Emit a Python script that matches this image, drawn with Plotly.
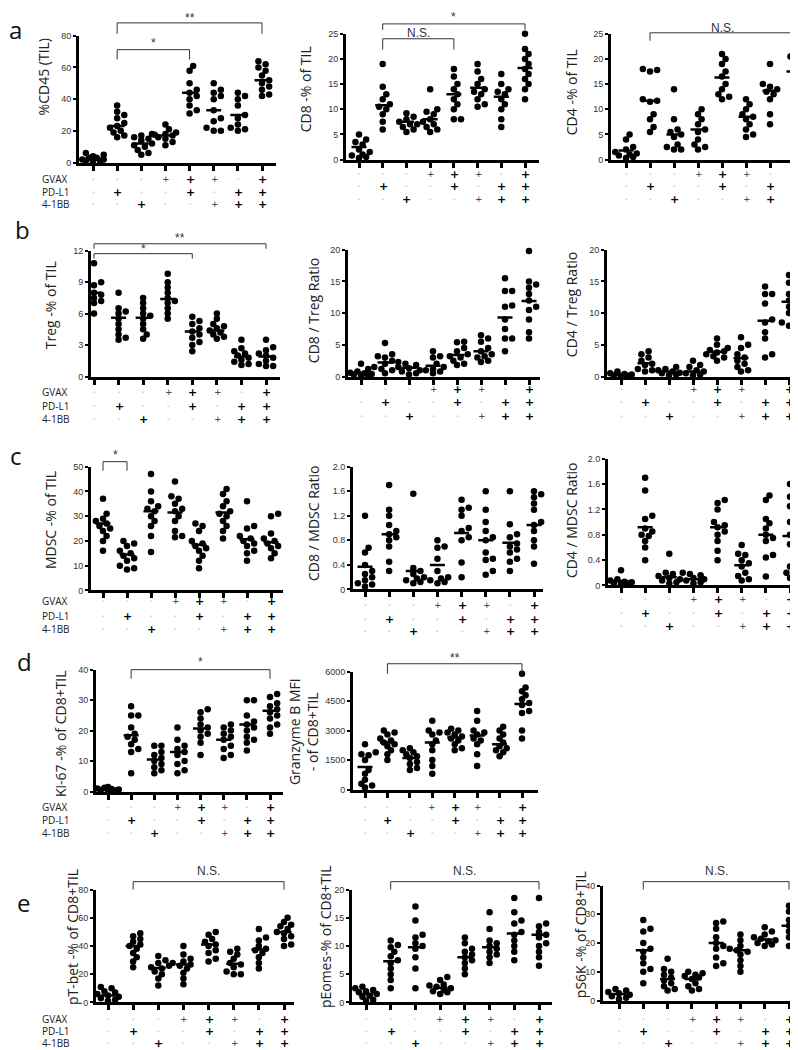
import plotly.graph_objects as go

W, H = 798, 1050

# ---------------- data ----------------
GVAX  = ["-", "-", "-", "+", "+", "+", "-", "+"]
PDL1  = ["-", "+", "-", "-", "+", "-", "+", "+"]
BB41  = ["-", "-", "+", "-", "-", "+", "+", "+"]
ROW_NAMES = ["GVAX", "PD-L1", "4-1BB"]

cd45_til = [[1, 2, 3, 4, 5, 6, 2, 1, 3, 0.5],
            [36, 32, 30, 28, 25, 23, 22, 20, 19, 17, 16],
            [18, 17, 16, 15, 14, 12, 11, 10, 8, 6, 5],
            [24, 21, 19, 18, 17.5, 17, 16, 15, 13, 11],
            [61, 58, 50, 46, 44, 42, 40, 36, 33, 31],
            [50, 46, 44, 42, 40, 33, 28, 26, 22, 20, 20],
            [44, 42, 40, 36, 30, 28, 24, 22, 21, 20],
            [64, 62, 60, 58, 55, 52, 50, 48, 46, 43, 42]]
cd45_mean = [3, 23, 12, 17, 44, 33, 30, 52]

cd8_til = [[5, 4, 3.5, 3, 2, 1, 0.8, 0.5, 1.5, 0.3],
           [19, 14.5, 13, 12, 11, 10.5, 10, 9, 7.5, 6],
           [9.2, 8.5, 8, 7.5, 7, 7, 6.5, 6, 5.5],
           [14, 10, 9.5, 9, 8, 7.5, 7, 6.5, 6, 5.5],
           [18, 16.5, 15, 14, 13, 12, 11, 10, 8, 8],
           [19, 17.5, 16, 15, 14, 13.5, 13, 12, 11, 10.5],
           [17, 15, 14, 13.5, 13, 12, 11, 10, 8, 6.5],
           [25, 22, 21, 20, 19, 18, 17, 16, 15, 14, 12]]
cd8_mean = [2.5, 10.8, 7.5, 8, 13, 14.3, 12.5, 18.2]

cd4_til = [[5, 4, 2.5, 2, 1.5, 1, 0.5, 0.3, 0.8, 1.2],
           [18, 17.8, 17.5, 12, 11.7, 11.5, 9, 8, 6.5, 5.5],
           [14, 8, 6, 5.5, 5, 4.5, 3, 2.5, 2, 2],
           [10, 9, 8, 7, 6, 5.5, 4, 3, 2.5, 2],
           [21, 20, 19, 17.5, 16.5, 15, 14, 13, 12, 12.5],
           [12, 11, 10, 9, 8.5, 8, 7, 6, 5, 4.5],
           [19, 15, 14.5, 14, 13.5, 13, 12, 9, 7],
           [21, 20.5, 20, 19, 18, 17.5, 16, 15, 11, 10]]
cd4_mean = [1.8, 11.7, 5, 6, 16.3, 8.5, 13.7, 17.5]

treg_til = [[10.8, 9, 8.7, 8.2, 8, 7.8, 7.5, 7.2, 7, 6],
            [8, 6.5, 6.2, 6, 5.5, 5, 4.5, 4, 3.7, 3.5],
            [7.5, 7, 6.5, 6, 5.8, 5.5, 5, 4.5, 4, 3.6],
            [9.8, 9, 8.5, 8, 7.5, 7.2, 7, 6.5, 6, 5.5],
            [5.7, 5.3, 5, 4.6, 4.3, 4, 3.7, 3.3, 3, 2.4],
            [6, 5.5, 5, 4.8, 4.6, 4.4, 4.2, 4, 3.8, 3.6],
            [3.5, 2.7, 2.4, 2.2, 2, 1.8, 1.6, 1.4, 1.2, 1.1],
            [3.5, 2.8, 2.5, 2.2, 2, 1.8, 1.5, 1.2, 1, 1]]
treg_mean = [8, 5.6, 5.6, 7.4, 4.3, 4.4, 1.9, 1.9]

cd8_treg = [[2, 1.2, 0.8, 0.5, 0.3, 0.2, 0.4, 0.6, 0.1],
            [5.3, 3.5, 3.2, 3, 2.5, 2, 1.5, 1.2, 1, 0.5],
            [2.3, 2, 1.8, 1.5, 1.3, 1, 0.8, 0.5, 0.3],
            [4, 3.2, 3, 2, 1.5, 1.2, 1, 0.8, 0.5],
            [5.5, 5.4, 4.5, 4, 3.5, 3.2, 3, 2.5, 2, 1.8],
            [6.5, 6, 5.5, 4.5, 4, 3.5, 3.2, 3, 2.5, 2.3],
            [15.5, 13.5, 13.5, 11.2, 11, 9, 7.5, 6, 6, 4],
            [19.8, 15, 14.5, 14, 13, 12, 11, 10.5, 9, 7, 6]]
cd8_treg_mean = [0.6, 2.2, 1.4, 1.7, 3.4, 4, 9.3, 11.9]

cd4_treg = [[0.8, 0.4, 0.2, 0.1, 0.3, 0.5, 0.1],
            [4, 3.5, 3, 2.5, 2, 1.8, 1.2, 1, 0.8],
            [1.5, 1.2, 1, 0.8, 0.6, 0.5, 0.3, 0.2],
            [2.5, 1.8, 1.5, 1, 0.8, 0.5, 0.3, 0.2],
            [6, 5, 4.5, 4.2, 4, 3.8, 3.5, 3.2, 3, 2.5],
            [6.2, 5, 4.5, 3.5, 3, 2.5, 2, 1.5, 1, 0.8],
            [14.2, 13, 13, 11.5, 9, 8.5, 7, 6, 3.5, 3],
            [16, 15, 14.8, 13, 12, 11.5, 11, 10, 8.5, 8, 8]]
cd4_treg_mean = [0.2, 2.1, 0.8, 0.8, 3.9, 2.9, 8.8, 11.8]

mdsc_til = [[37, 31, 29, 28, 27, 26, 25, 24, 22, 20, 16],
            [20, 19, 18, 16, 15, 14, 13, 12, 10, 9, 8.5],
            [47, 40, 36, 34, 33, 32, 30, 28, 26, 22, 15.5],
            [44, 38, 37, 35, 33, 32, 30, 28, 24, 22, 21.5],
            [27, 26, 24, 20, 19, 18, 17, 16, 14, 12, 9],
            [41, 39, 36, 34, 32, 31, 30, 28, 26, 24, 21],
            [36, 26, 25, 22, 21, 20, 19, 18, 16, 15, 12],
            [31, 30, 23, 21, 20, 19, 18, 17, 15, 13]]
mdsc_mean = [27, 14.5, 32, 31.5, 18.5, 31.5, 20.7, 19.5]

cd8_mdsc = [[1.2, 0.68, 0.6, 0.4, 0.3, 0.25, 0.2, 0.15, 0.1, 0.08, 0.05],
            [1.7, 1.3, 1.2, 1.05, 0.95, 0.9, 0.85, 0.8, 0.7, 0.45, 0.3],
            [1.56, 0.35, 0.3, 0.25, 0.2, 0.18, 0.15, 0.12, 0.1],
            [0.8, 0.7, 0.68, 0.5, 0.3, 0.2, 0.18, 0.15, 0.12, 0.1],
            [1.46, 1.33, 1.3, 1.2, 1.0, 0.95, 0.85, 0.8, 0.44, 0.2],
            [1.6, 1.3, 1.1, 0.95, 0.85, 0.8, 0.6, 0.5, 0.48, 0.3, 0.24],
            [1.6, 1.06, 0.9, 0.85, 0.75, 0.7, 0.65, 0.6, 0.5, 0.45, 0.3],
            [1.6, 1.55, 1.5, 1.4, 1.3, 1.1, 1.05, 0.95, 0.8, 0.7, 0.42]]
cd8_mdsc_mean = [0.37, 0.9, 0.3, 0.4, 0.92, 0.8, 0.76, 1.05]

cd4_mdsc = [[0.24, 0.1, 0.08, 0.05, 0.03, 0.02, 0.06, 0.04],
            [1.7, 1.5, 1.1, 1.05, 0.9, 0.85, 0.8, 0.78, 0.7, 0.6, 0.4],
            [0.5, 0.2, 0.18, 0.15, 0.12, 0.1, 0.08, 0.05, 0.03],
            [0.2, 0.18, 0.16, 0.12, 0.1, 0.08, 0.05, 0.03],
            [1.35, 1.3, 1.2, 1.0, 0.95, 0.92, 0.85, 0.8, 0.7, 0.55, 0.4],
            [0.64, 0.5, 0.48, 0.4, 0.35, 0.3, 0.2, 0.15, 0.1, 0.08],
            [1.42, 1.35, 1.05, 0.98, 0.9, 0.8, 0.75, 0.7, 0.48, 0.44, 0.14],
            [1.6, 1.4, 1.25, 1.0, 1.0, 0.8, 0.65, 0.3, 0.2, 0.15, 0.12]]
cd4_mdsc_mean = [0.07, 0.92, 0.13, 0.1, 0.92, 0.32, 0.8, 0.78]

ki67 = [[1.5, 1, 0.8, 0.5, 0.3, 0.7, 0.2, 1.2],
        [28, 25, 25, 21, 19, 18, 17, 15.5, 14, 13, 6],
        [15, 15, 13, 12, 11, 10, 9, 8, 7, 6],
        [21, 17, 15, 14, 13, 12, 10, 9, 7, 6],
        [27, 26, 24, 22, 21, 20, 19, 18, 16, 12],
        [22, 21, 20, 19, 18, 17, 15, 14, 12, 11],
        [30, 30, 25, 23, 22, 21, 20, 18, 17, 16, 13.5],
        [32, 31, 29, 28, 27, 26, 25, 24, 22, 21, 19]]
ki67_mean = [0.8, 18.5, 10.5, 13, 20.7, 17, 22, 26.5]

gzmb = [[2300, 1900, 1800, 1750, 1500, 1000, 800, 500, 300, 200, 100],
        [3000, 2900, 2800, 2600, 2500, 2400, 2300, 2200, 2000, 1800, 1500],
        [2100, 2000, 1900, 1800, 1700, 1600, 1400, 1300, 1100, 1000],
        [3500, 3000, 2900, 2800, 2500, 2300, 2000, 1500, 1200, 800],
        [3100, 3000, 2900, 2800, 2700, 2600, 2500, 2300, 2100, 2000],
        [4000, 3500, 3000, 2900, 2800, 2600, 2500, 2300, 1800, 1200],
        [3200, 3000, 2800, 2600, 2400, 2200, 2100, 2000, 1900, 1700],
        [5900, 5200, 5000, 4800, 4600, 4400, 4300, 4000, 3900, 3000, 2600]]
gzmb_mean = [1150, 2400, 1600, 2400, 2650, 2750, 2300, 4350]

ptbet = [[11, 10, 8, 7, 6, 5, 4, 3, 2, 1],
         [49, 47, 45, 43, 41, 40, 38, 35, 32, 29, 25],
         [33, 30, 28, 26, 25, 24, 22, 20, 17, 12],
         [40, 34, 31, 29, 28, 27, 26, 24, 21, 17, 13],
         [50, 48, 45, 43, 41, 40, 37, 35, 31, 29],
         [38, 36, 34, 31, 28, 27, 25, 22, 20, 20],
         [52, 46, 44, 40, 38, 37, 35, 32, 28, 24],
         [60, 57, 55, 54, 52, 50, 49, 47, 45, 41, 40]]
ptbet_mean = [5, 40, 24.5, 27, 41, 27.5, 37.5, 50]

peomes = [[2.8, 2.5, 2.2, 2, 1.8, 1.5, 1.2, 1, 0.5, 0.3],
          [11, 10.2, 9.8, 9, 8.2, 7.5, 7, 6, 5, 4, 2.5],
          [17, 14.5, 12, 11.5, 10.5, 10, 9.5, 8, 6, 2.5],
          [4.5, 4, 3.2, 3, 2.8, 2.5, 2.2, 2, 1.8, 1.5],
          [11.5, 10.5, 9.5, 9, 8.5, 8, 7.5, 7, 6, 5],
          [16, 13, 11, 10.5, 10, 9.5, 9, 8.5, 8, 7],
          [18.5, 16, 14.5, 14, 12.5, 12, 11, 10, 9, 7.5],
          [18.5, 14, 13.5, 12.5, 12, 11.5, 10.5, 10, 9, 8, 6.5]]
peomes_mean = [1.5, 7.3, 9.8, 2.6, 8, 9.8, 12.2, 12]

ps6k = [[4, 3.5, 3, 2.5, 2, 1.5, 1, 0.5],
        [28, 25, 24, 20, 18, 17, 15, 13, 11, 10, 6],
        [14.5, 11, 10, 9, 8, 7, 6, 5, 4, 3.5],
        [10, 9.5, 9, 8.5, 8, 7.5, 6, 5, 4, 3.5],
        [27.5, 27, 25, 22, 20, 19, 18, 15, 13, 12],
        [23, 21, 19, 18, 17.5, 17, 16, 14, 12, 10],
        [25.5, 24, 23, 22, 21.5, 21, 20.5, 20, 19.5, 19],
        [33, 32, 31, 28, 27, 26, 25, 24, 22, 20, 19]]
ps6k_mean = [2.3, 17.5, 7.5, 7.5, 20, 17.5, 21.2, 26]

# ---------------- layout of the panels (pixel geometry) ----------------
panels = [
    dict(data=cd45_til, mean=cd45_mean, title="%CD45 (TIL)", tx=35, ty=65,
         left=71, g1=85, g8=254, right=268, top=23, bottom=151, ymax=80, dt=20,
         rows=(168, 181, 193), names=True),
    dict(data=cd8_til, mean=cd8_mean, title="CD8 -% of TIL", tx=297, ty=77,
         left=338, g1=351, g8=517, right=531, top=21, bottom=148, ymax=25, dt=5,
         rows=(163, 175, 188), names=False),
    dict(data=cd4_til, mean=cd4_mean, title="CD4 -% of TIL", tx=563, ty=80,
         left=603, g1=618, g8=786, right=798, top=21, bottom=148, ymax=25, dt=5,
         rows=(163, 175, 188), names=False),
    dict(data=treg_til, mean=treg_mean, title="Treg -% of TIL", tx=42, ty=295,
         left=83, g1=86, g8=258, right=272, top=240, bottom=367, ymax=12, dt=3,
         rows=(383, 397, 410), names=True),
    dict(data=cd8_treg, mean=cd8_treg_mean, title="CD8 / Treg Ratio", tx=305, ty=301,
         left=340, g1=353, g8=521, right=532, top=239, bottom=367, ymax=20, dt=5,
         rows=(380, 393, 407), names=False),
    dict(data=cd4_treg, mean=cd4_treg_mean, title="CD4 / Treg Ratio", tx=563, ty=295,
         left=599, g1=613, g8=781, right=795, top=239, bottom=367, ymax=20, dt=5,
         rows=(380, 393, 407), names=False),
    dict(data=mdsc_til, mean=mdsc_mean, title="MDSC -% of TIL", tx=42, ty=512,
         left=83, g1=95, g8=263, right=275, top=458, bottom=583, ymax=50, dt=10,
         rows=(594, 609, 622), names=True),
    dict(data=cd8_mdsc, mean=cd8_mdsc_mean, title="CD8 / MDSC Ratio", tx=305, ty=515,
         left=345, g1=357, g8=526, right=535, top=458, bottom=582, ymax=2.0, dt=0.4,
         rows=(598, 612, 624), names=False, dec=True),
    dict(data=cd4_mdsc, mean=cd4_mdsc_mean, title="CD4 / MDSC Ratio", tx=563, ty=512,
         left=600, g1=613, g8=782, right=795, top=450, bottom=578, ymax=2.0, dt=0.4,
         rows=(592, 606, 619), names=False, dec=True),
    dict(data=ki67, mean=ki67_mean, title="Ki-67 -% of CD8+TIL", tx=52, ty=728,
         left=88, g1=100, g8=262, right=275, top=663, bottom=786, ymax=40, dt=10,
         rows=(802, 815, 828), names=True),
    dict(data=gzmb, mean=gzmb_mean, title="Granzyme B MFI<br>- of CD8+TIL", tx=295, ty=726,
         left=345, g1=357, g8=514, right=530, top=665, bottom=784, ymax=6000, dt=1500,
         rows=(802, 815, 828), names=False),
    dict(data=ptbet, mean=ptbet_mean, title="pT-bet -% of CD8+TIL", tx=64, ty=933,
         left=88, g1=100, g8=276, right=286, top=885, bottom=999, ymax=80, dt=20,
         rows=(1016, 1028, 1040), names=True),
    dict(data=peomes, mean=peomes_mean, title="pEomes-% of CD8+TIL", tx=317, ty=933,
         left=344, g1=358, g8=531, right=544, top=885, bottom=999, ymax=20, dt=5,
         rows=(1016, 1028, 1040), names=False),
    dict(data=ps6k, mean=ps6k_mean, title="pS6K -% of CD8+TIL", tx=572, ty=931,
         left=595, g1=611, g8=781, right=798, top=881, bottom=997, ymax=40, dt=10,
         rows=(1016, 1028, 1040), names=False),
]

# significance brackets: (panel index, group from, group to, line y px, foot y px, label, label y px)
brackets = [
    (0, 2, 5, 37, 47, "*", 30), (0, 2, 8, 10, 21, "**", 5),
    (1, 2, 5, 26, 37, "N.S.", 20), (1, 2, 8, 11, 17, "*", 4),
    (2, 2, 8, 20, 28, "N.S.", 15),
    (3, 1, 5, 243, 248, "*", 238), (3, 1, 8, 233, 238, "**", 227),
    (6, 1, 2, 453, 462, "*", 446),
    (9, 2, 8, 663, 672, "*", 655),
    (10, 2, 8, 657, 667, "**", 651),
    (11, 2, 8, 877, 885, "N.S.", 866),
    (12, 2, 8, 877, 885, "N.S.", 866),
    (13, 2, 8, 877, 885, "N.S.", 866),
]
letters = [("a", 7, 17), ("b", 14, 219), ("c", 8, 447), ("d", 16, 655), ("e", 15, 898)]
# small/faint "+" signs in the reference
SMALL_PLUS = {(0, 4), (0, 6), (2, 6)}

# ---------------- build ----------------
def px(y):
    return 1 - y / H

fig = go.Figure()
layout = dict(width=W, height=H, margin=dict(l=0, r=0, t=0, b=0),
              paper_bgcolor="white", plot_bgcolor="white", showlegend=False,
              hovermode=False)
annotations, shapes = [], []
DIAM = 6.5
TICKFONT = dict(family="Liberation Sans, Arial, sans-serif", size=9, color="#333")
TITLEFONT = dict(family="Open Sans, sans-serif", size=14, color="#222")


def swarm(vals, ppy, ppx):
    order = sorted(range(len(vals)), key=lambda i: vals[i])
    placed, offs = [], [0.0] * len(vals)
    cands = [0.0]
    for k in range(1, 4):
        cands += [k * DIAM * 0.55, -k * DIAM * 0.55]
    for i in order:
        y = vals[i] * ppy
        best, bestd = 0.0, -1
        for cc in cands:
            d = min([((cc - a) ** 2 + (y - b) ** 2) ** 0.5 for a, b in placed] or [99])
            if d >= DIAM * 0.8:
                best = cc
                break
            if d > bestd:
                best, bestd = cc, d
        placed.append((best, y))
        offs[i] = best / ppx
    return offs


for n, p in enumerate(panels, start=1):
    xa = "xaxis" if n == 1 else f"xaxis{n}"
    ya = "yaxis" if n == 1 else f"yaxis{n}"
    xr = "x" if n == 1 else f"x{n}"
    yr = "y" if n == 1 else f"y{n}"
    s = (p["g8"] - p["g1"]) / 7.0
    lo = 1 - (p["g1"] - p["left"]) / s
    hi = 8 + (p["right"] - p["g8"]) / s
    ppy = (p["bottom"] - p["top"]) / p["ymax"]
    nt = int(round(p["ymax"] / p["dt"]))
    tv = [p["dt"] * k for k in range(nt + 1)]
    if p.get("dec"):
        tt = ["0"] + [f"{v:.1f}" for v in tv[1:]]
    else:
        tt = [f"{v:g}" for v in tv]
    layout[xa] = dict(domain=[p["left"] / W, p["right"] / W], anchor=yr,
                      range=[lo, hi], showgrid=False, zeroline=False,
                      showline=True, linecolor="black", linewidth=3,
                      tickmode="array", tickvals=list(range(1, 9)), showticklabels=False,
                      ticks="outside", ticklen=5, tickwidth=3, tickcolor="black")
    layout[ya] = dict(domain=[px(p["bottom"]), px(p["top"])], anchor=xr,
                      range=[0, p["ymax"]], showgrid=False, zeroline=False,
                      showline=True, linecolor="black", linewidth=3,
                      tickmode="array", tickvals=tv, ticktext=tt, tickfont=TICKFONT,
                      ticks="outside", ticklen=3, tickwidth=2, tickcolor="black")
    xs, ys = [], []
    mx, my = [], []
    for g, vals in enumerate(p["data"], start=1):
        offs = swarm(vals, ppy, s)
        xs += [g + o for o in offs]
        ys += vals
        m = p["mean"][g - 1]
        hw = 7.5 / s
        mx += [g - hw, g + hw, None]
        my += [m, m, None]
    fig.add_trace(go.Scatter(x=xs, y=ys, mode="markers", xaxis=xr, yaxis=yr,
                             marker=dict(size=DIAM, color="black"), cliponaxis=False))
    fig.add_trace(go.Scatter(x=mx, y=my, mode="lines", xaxis=xr, yaxis=yr,
                             line=dict(color="black", width=2.5), cliponaxis=False))
    annotations.append(dict(text=p["title"], x=p["tx"] / W, y=px(p["ty"]),
                            xref="paper", yref="paper", showarrow=False, textangle=-90,
                            font=TITLEFONT, xanchor="center", yanchor="middle"))
    for r, (signs, ry) in enumerate(zip((GVAX, PDL1, BB41), p["rows"])):
        for g, sg in enumerate(signs, start=1):
            cx = round(p["g1"] + (g - 1) * s)  # snap sign centre to whole pixel
            if sg == "+":
                small = (r, g) in SMALL_PLUS
                f = dict(family="DejaVu Sans, sans-serif",
                         size=9 if small else 11, color="#333" if small else "#000")
                t = "+" if small else "<b>+</b>"
                if small:
                    cx += 0.5
            else:
                f = dict(family="DejaVu Sans, sans-serif", size=7, color="#888")
                t = "-"
            annotations.append(dict(text=t, x=cx / W, y=px(ry), xref="paper", yref="paper",
                                    showarrow=False, font=f, xanchor="center",
                                    yanchor="middle"))
        if p["names"]:
            annotations.append(dict(text=ROW_NAMES[r], x=32 / W, y=px(ry),
                                    xref="paper", yref="paper", showarrow=False,
                                    xanchor="left", yanchor="middle",
                                    font=dict(family="Open Sans, sans-serif", size=10,
                                              color="#222")))

for (pi, ga, gb, yl, yf, lab, ty) in brackets:
    n = pi + 1
    xr = "x" if n == 1 else f"x{n}"
    line = dict(color="#333", width=1)
    shapes.append(dict(type="path", xref=xr, yref="paper",
                       path=f"M {ga},{px(yf)} L {ga},{px(yl)} L {gb},{px(yl)} L {gb},{px(yf)}",
                       line=line))
    annotations.append(dict(text=lab, x=(ga + gb) / 2, y=px(ty), xref=xr, yref="paper",
                            showarrow=False, xanchor="center", yanchor="middle",
                            font=dict(family="Liberation Sans Narrow, Liberation Sans, sans-serif",
                                      size=12, color="#333")))

for (t, x, y) in letters:
    annotations.append(dict(text=t, x=x / W, y=px(y), xref="paper", yref="paper",
                            showarrow=False, xanchor="center", yanchor="middle",
                            font=dict(family="Open Sans, sans-serif", size=24, color="#111")))

layout["annotations"] = annotations
layout["shapes"] = shapes
fig.update_layout(**layout)
fig.write_html("out.html", config={"displayModeBar": False})
